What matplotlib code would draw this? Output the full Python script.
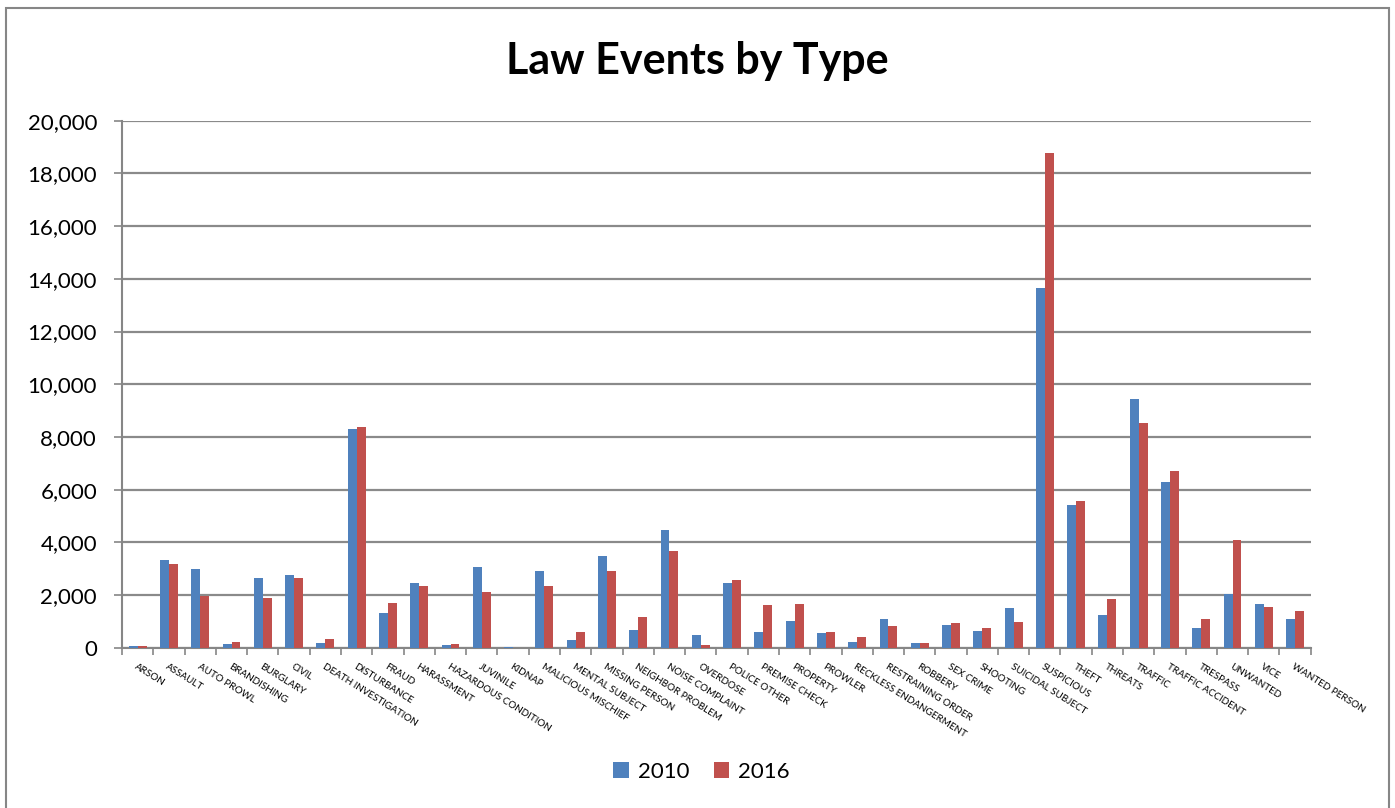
import matplotlib
matplotlib.use("Agg")
import matplotlib.pyplot as plt
import numpy as np
from matplotlib.patches import Patch, Rectangle

categories = ["ARSON", "ASSAULT", "AUTO PROWL", "BRANDISHING", "BURGLARY", "CIVIL",
              "DEATH INVESTIGATION", "DISTURBANCE", "FRAUD", "HARASSMENT",
              "HAZARDOUS CONDITION", "JUVINILE", "KIDNAP", "MALICIOUS MISCHIEF",
              "MENTAL SUBJECT", "MISSING PERSON", "NEIGHBOR PROBLEM", "NOISE COMPLAINT",
              "OVERDOSE", "POLICE OTHER", "PREMISE CHECK", "PROPERTY", "PROWLER",
              "RECKLESS ENDANGERMENT", "RESTRAINING ORDER", "ROBBERY", "SEX CRIME",
              "SHOOTING", "SUICIDAL SUBJECT", "SUSPICIOUS", "THEFT", "THREATS",
              "TRAFFIC", "TRAFFIC ACCIDENT", "TRESPASS", "UNWANTED", "VICE",
              "WANTED PERSON"]

values_2010 = [60, 3330, 2980, 125, 2660, 2740, 170, 8290, 1330, 2440,
               90, 3060, 10, 2900, 310, 3470, 660, 4460, 470, 2470,
               610, 1000, 540, 220, 1080, 160, 850, 650, 1500, 13650,
               5420, 1230, 9450, 6300, 730, 2050, 1660, 1100]

values_2016 = [70, 3180, 1980, 200, 1900, 2630, 320, 8370, 1690, 2330,
               130, 2100, 5, 2330, 590, 2900, 1170, 3660, 110, 2580,
               1610, 1640, 580, 390, 840, 160, 940, 730, 980, 18790,
               5580, 1830, 8520, 6720, 1070, 4070, 1530, 1380]

series_names = ["2010", "2016"]
colors = ["#4F81BD", "#C0504D"]

plt.rcParams['font.family'] = ['Lato', 'DejaVu Sans']

fig = plt.figure(figsize=(13.95, 8.08), dpi=100)
ax = fig.add_axes([0.0875, 0.1984, 0.9396 - 0.0875, 0.8506 - 0.1984])

x = np.arange(len(categories))
bw = 0.286
ax.bar(x - bw / 2, values_2010, width=bw, color=colors[0], zorder=3)
ax.bar(x + bw / 2, values_2016, width=bw, color=colors[1], zorder=3)

ax.set_xlim(-0.5, len(categories) - 0.5)
ax.set_ylim(0, 20000)
ax.set_yticks(np.arange(0, 20001, 2000))
ax.set_yticklabels([f"{v:,}" for v in range(0, 20001, 2000)], fontsize=16)
ax.yaxis.grid(True, color="#8a8a8a", linewidth=1.6, zorder=0)
ax.set_axisbelow(True)

ax.set_xticks(x)
ax.set_xticklabels(categories, fontsize=7.1, rotation=-32, ha="left", va="top",
                   rotation_mode="anchor")
ax.tick_params(axis="x", which="major", length=0, pad=10)
ax.set_xticks(np.arange(-0.5, len(categories), 1), minor=True)
ax.tick_params(axis="x", which="minor", length=5, width=1.2, color="#868686", direction="out")
ax.tick_params(axis="y", length=6, width=1.2, color="#868686", pad=12)

for s in ["top", "right"]:
    ax.spines[s].set_visible(False)
for s in ["left", "bottom"]:
    ax.spines[s].set_color("#868686")
    ax.spines[s].set_linewidth(1.5)

fig.text(0.5, 0.924, "Law Events by Type", ha="center", va="center",
         fontsize=31, fontweight="bold")

handles = [Patch(facecolor=c, edgecolor="none") for c in colors]
fig.legend(handles, series_names, loc="center", bbox_to_anchor=(0.503, 0.045),
           ncol=2, frameon=False, fontsize=16, handlelength=0.7, handleheight=0.7,
           handletextpad=0.4, columnspacing=1.1)

fig.patches.append(Rectangle((6 / 1395, -0.05), (1389 - 6) / 1395, 1.05 - 8 / 808,
                             transform=fig.transFigure, fill=False,
                             edgecolor="#868686", linewidth=1.5))

fig.savefig("out.png", dpi=100)
